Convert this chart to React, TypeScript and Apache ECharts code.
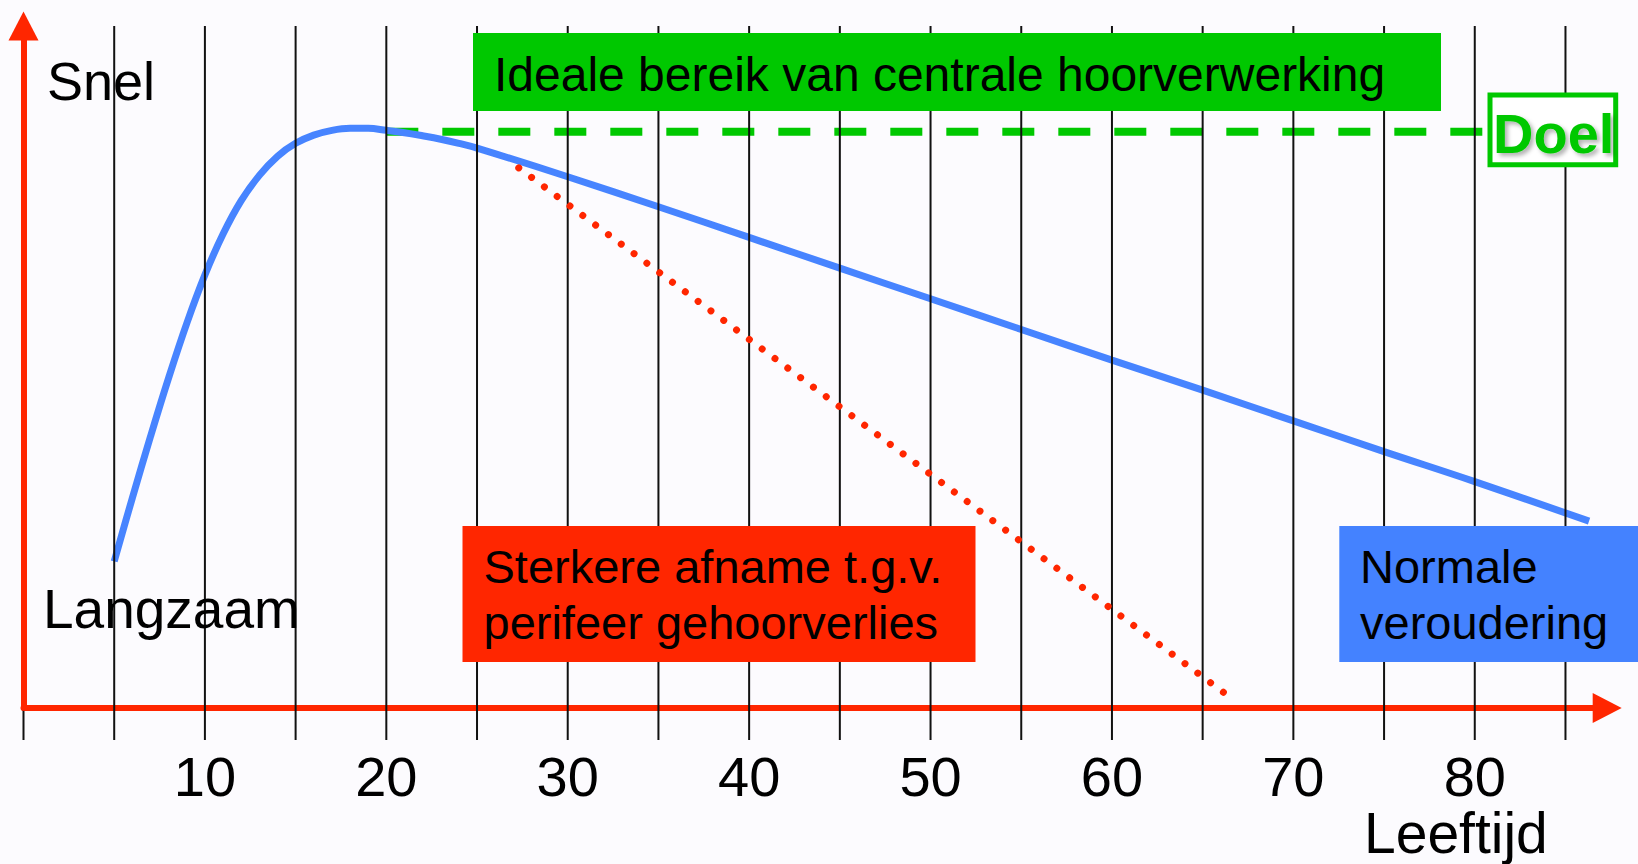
import React, { useEffect, useRef } from "react";
import * as echarts from "echarts";

// Normal ageing curve (age, processing speed on a 0–100 scale)
const normalAges = [5, 6, 7, 8, 9, 10, 11, 12, 13, 14, 15, 16, 17, 18, 19, 20, 21, 22, 23, 24, 25, 30, 35, 40, 45, 50, 55, 60, 65, 70, 75, 80, 86.3];
const normalSpeed = [21.5, 30.8, 39.8, 48.4, 56.4, 63.5, 69.5, 74.4, 78.1, 80.9, 82.8, 84.0, 84.7, 85.0, 85.0, 84.7, 84.35, 83.9, 83.4, 82.8, 82.1, 77.9, 73.5, 69.0, 64.5, 60.0, 55.5, 51.0, 46.6, 42.1, 37.6, 33.2, 27.4];

// Stronger decline due to peripheral hearing loss
const lossAges = [27.3, 66.2];
const lossSpeed = [79.2, 2.2];

// Goal level (dashed)
const goalAges = [20, 80.7];
const goalLevel = 84.5;

// Vertical grid lines and tick labels
const gridAges = [0, 5, 10, 15, 20, 25, 30, 35, 40, 45, 50, 55, 60, 65, 70, 75, 80, 85];
const tickLabels = ["10", "20", "30", "40", "50", "60", "70", "80"];
const gridLineTop = 100;
const gridLineBottom = -4.7;

const FONT = "'Liberation Sans', Arial, Helvetica, sans-serif";
const RED = "#ff2600";
const BLUE = "#4784ff";
const GREEN = "#00c800";

function txt(text: string, x: number, baseline: number, size: number, fill = "#000", bold = false, extra: any = {}) {
  return {
    type: "text",
    z: 110,
    x,
    y: baseline - 0.3465 * size,
    style: {
      text,
      fill,
      fontSize: size,
      fontFamily: FONT,
      fontWeight: bold ? "bold" : "normal",
      align: "left",
      verticalAlign: "middle",
      textAlign: "left",
      textVerticalAlign: "middle",
      ...extra,
    },
  };
}

export default function App() {
  const ref = useRef<HTMLDivElement>(null);
  useEffect(() => {
    if (!ref.current) return;
    const chart = echarts.init(ref.current, undefined, { renderer: "svg" });
    const option: any = {
      animation: false,
      backgroundColor: "#fcfbfe",
      grid: { left: 23.5, right: 30.8, top: 26, bottom: 156, containLabel: false },
      xAxis: {
        type: "value",
        min: 0,
        max: 87.3,
        interval: 5,
        z: 0,
        axisLine: {
          show: true,
          onZero: false,
          lineStyle: { color: RED, width: 6 },
          symbol: ["none", "triangle"],
          symbolSize: [30, 29],
        },
        axisTick: { show: false },
        splitLine: { show: false },
        axisLabel: {
          show: true,
          margin: 40,
          fontSize: 56,
          fontFamily: FONT,
          color: "#000",
          formatter: (v: number) => (tickLabels.includes(String(v)) ? String(v) : ""),
        },
      },
      yAxis: {
        type: "value",
        min: 0,
        max: 100,
        z: 5,
        axisLine: {
          show: true,
          onZero: false,
          lineStyle: { color: RED, width: 6 },
          symbol: ["none", "triangle"],
          symbolSize: [30, 29],
        },
        axisTick: { show: false },
        splitLine: { show: false },
        axisLabel: { show: false },
      },
      series: [
        {
          type: "line",
          name: "Doel",
          z: 1,
          data: goalAges.map((a) => [a, goalLevel]),
          showSymbol: false,
          lineStyle: { color: GREEN, width: 8, type: [32, 24] },
        },
        {
          type: "line",
          name: "Normale veroudering",
          z: 2,
          smooth: 0.4,
          data: normalAges.map((a, i) => [a, normalSpeed[i]]),
          showSymbol: false,
          lineStyle: { color: BLUE, width: 7 },
        },
        {
          type: "custom",
          name: "grid",
          z: 3,
          clip: false,
          data: gridAges.map((a) => [a, 0]),
          renderItem: (_p: any, api: any) => {
            const a = api.value(0);
            const p1 = api.coord([a, gridLineTop]);
            const p2 = api.coord([a, gridLineBottom]);
            return {
              type: "line",
              shape: { x1: p1[0], y1: p1[1], x2: p2[0], y2: p2[1] },
              style: { stroke: "#111", lineWidth: 2 },
            };
          },
        },
        {
          type: "line",
          name: "Sterkere afname",
          z: 4,
          data: lossAges.map((a, i) => [a, lossSpeed[i]]),
          showSymbol: false,
          lineStyle: { color: RED, width: 7, type: [0.01, 15.96], cap: "round" },
        },
      ],
      graphic: [
        { type: "rect", z: 100, shape: { x: 473, y: 33, width: 968, height: 78 }, style: { fill: GREEN } },
        txt("Ideale bereik van centrale hoorverwerking", 494, 91, 48),
        { type: "rect", z: 100, shape: { x: 462.5, y: 526, width: 513, height: 136 }, style: { fill: RED } },
        txt("Sterkere afname t.g.v.", 483.5, 583, 47),
        txt("perifeer gehoorverlies", 483.5, 639, 47),
        { type: "rect", z: 100, shape: { x: 1339.3, y: 526, width: 300, height: 136 }, style: { fill: "#4482ff" } },
        txt("Normale", 1360, 583, 47),
        txt("veroudering", 1360, 639, 47),
        {
          type: "rect",
          z: 100,
          shape: { x: 1490, y: 95, width: 125.7, height: 69.7 },
          style: { fill: "#ffffff", stroke: GREEN, lineWidth: 5 },
        },
        txt("Doel", 1493, 153.3, 56, GREEN, true, {
          textShadowColor: "rgba(0,0,0,0.3)",
          textShadowBlur: 4,
          textShadowOffsetX: 3,
          textShadowOffsetY: 3,
        }),
        txt("Snel", 47, 100, 54),
        txt("Langzaam", 43, 628, 55),
        txt("Leeftijd", 1364, 853, 57),
      ],
    };
    chart.setOption(option);
    return () => chart.dispose();
  }, []);
  return (
    <div
      ref={ref}
      style={{ position: "absolute", left: 0, top: 0, width: 1638, height: 864, background: "#fcfbfe" }}
    />
  );
}
